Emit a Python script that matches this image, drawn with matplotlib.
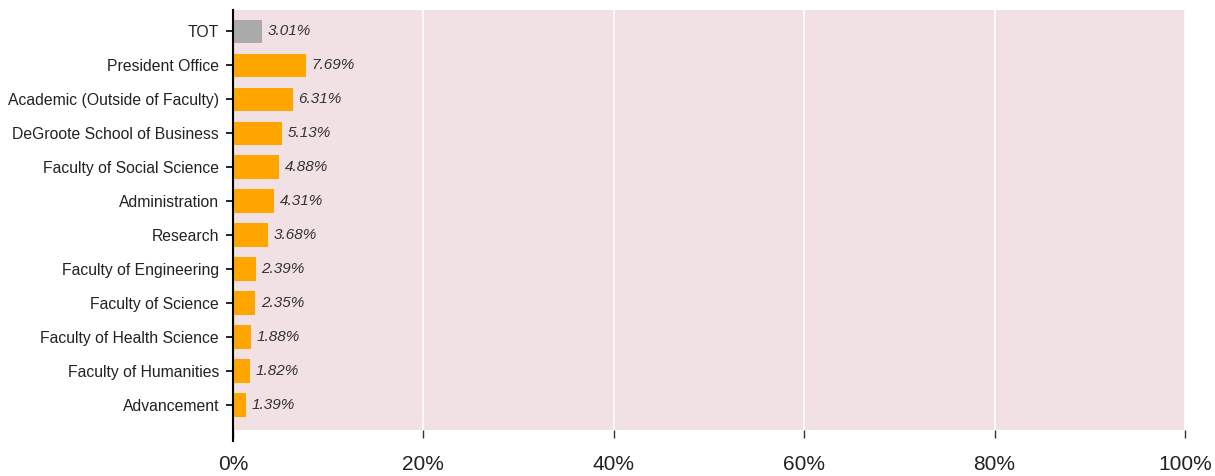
import matplotlib.pyplot as plt

plt.rcParams['font.family'] = ['Liberation Sans', 'DejaVu Sans']

units = ["TOT", "President Office", "Academic (Outside of Faculty)",
         "DeGroote School of Business", "Faculty of Social Science",
         "Administration", "Research", "Faculty of Engineering",
         "Faculty of Science", "Faculty of Health Science",
         "Faculty of Humanities", "Advancement"]
pct = [3.01, 7.69, 6.31, 5.13, 4.88, 4.31, 3.68, 2.39, 2.35, 1.88, 1.82, 1.39]
xticks = [0, 20, 40, 60, 80, 100]

colors = ["#aaaaaa" if u == "TOT" else "#ffa500" for u in units]

fig = plt.figure(figsize=(12.15, 4.76), dpi=100)
ax = fig.add_axes([233 / 1215, 46 / 476, 952 / 1215, 420 / 476])
ax.set_facecolor("#f1e1e4")

pos = list(range(len(units)))
ax.barh(pos, pct, height=0.68, color=colors, zorder=2)
for p, v in zip(pos, pct):
    ax.annotate(f"{v:.2f}%", (v, p), xytext=(4, 0), textcoords="offset points",
                ha="left", va="center", fontsize=11, style="italic", color="#333333")

ax.set_xlim(0, 100)
ax.set_ylim(len(units) - 1 + 0.735, -0.62)
ax.set_xticks(xticks)
ax.set_xticklabels([f"{t}%" for t in xticks], fontsize=15, color="#222222")
ax.set_yticks(pos)
ax.set_yticklabels(units, fontsize=11.3, color="#222222")

ax.grid(axis="x", color="white", linewidth=1.2, zorder=1)
ax.set_axisbelow(True)
for s in ["top", "right", "bottom", "left"]:
    ax.spines[s].set_visible(False)
ax.axvline(0, ymin=-0.025, ymax=1.0, color="black", linewidth=1.5, clip_on=False, zorder=3)

ax.tick_params(axis="y", length=5, width=1.2, color="black", pad=5)
ax.tick_params(axis="x", length=6, width=1.0, color="#333333", pad=12, direction="out")

fig.savefig("out.png", dpi=100)
